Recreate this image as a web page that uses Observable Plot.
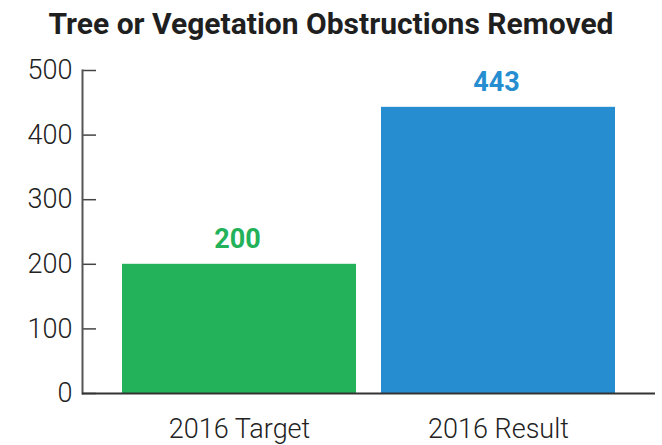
<!DOCTYPE html>
<html><head><meta charset="utf-8">
<script src="https://cdn.jsdelivr.net/npm/d3@7"></script>
<script src="https://cdn.jsdelivr.net/npm/@observablehq/plot@0.6"></script>
<style>
body{margin:0;background:#fff;font-family:Roboto,"Noto Sans",sans-serif;}
#title{height:50px;width:662px;text-align:center;font-weight:700;font-size:30px;color:#1f1f1f;line-height:48px;}
</style></head><body>
<div id="title">Tree or Vegetation Obstructions Removed</div>
<div id="chart"></div>
<script>
const categories = ["2016 Target", "2016 Result"];
const values = [200, 443];
const colors = ["#23b25a", "#268ed0"];
const yTicks = [0, 100, 200, 300, 400, 500];

const data = categories.map((c, i) => ({category: c, value: values[i], color: colors[i]}));

const chart = Plot.plot({
  width: 662,
  height: 395,
  marginTop: 20,
  marginBottom: 52,
  marginLeft: 82,
  marginRight: 7,
  style: {fontFamily: "Roboto, sans-serif", background: "#fff"},
  x: {domain: categories, paddingInner: 0.0965, paddingOuter: 0.154, label: null},
  y: {domain: [0, 500], label: null},
  marks: [
    Plot.barY(data, {x: "category", y: "value", fill: "color"}),
    Plot.text(data, {x: "category", y: "value", text: d => String(d.value), fill: "color", dx: -2, dy: -25, fontSize: 27, fontWeight: 700}),
    Plot.axisY({ticks: yTicks, tickSize: 0, tickPadding: 10, fontSize: 27, fontWeight: 300, fill: "#222", label: null}),
    Plot.axisY({ticks: yTicks, tickSize: -14, text: null, stroke: "#444", strokeWidth: 1.5, label: null}),
    Plot.frame({anchor: "left", stroke: "#555", strokeWidth: 2}),
    Plot.axisX({tickSize: 0, tickPadding: 25, fontSize: 27, fontWeight: 300, fill: "#222", label: null, style: {letterSpacing: "1.1px"}}),
    Plot.ruleY([0], {stroke: "#333", strokeWidth: 2})
  ]
});
document.getElementById("chart").appendChild(chart);
</script>
</body></html>
